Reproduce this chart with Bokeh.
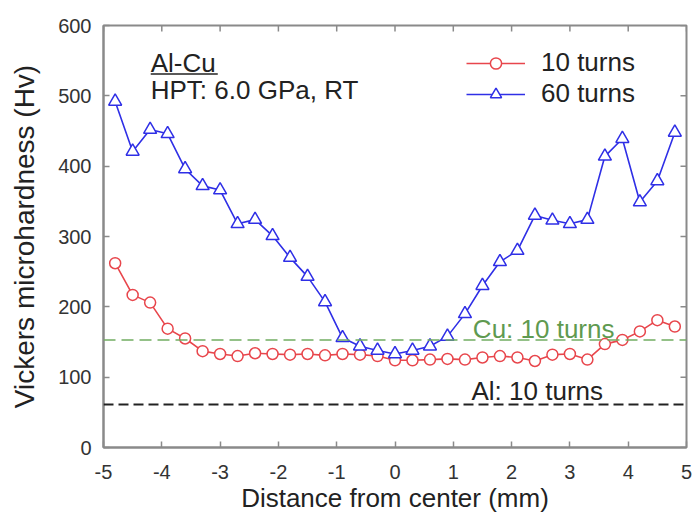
import math
from bokeh.plotting import figure
from bokeh.models import (FixedTicker, Span, Label, Legend, LegendItem, Range1d)
from bokeh.embed import file_html
from bokeh.resources import INLINE

# ---- data ----
distance = [-4.8, -4.5, -4.2, -3.9, -3.6, -3.3, -3.0, -2.7, -2.4, -2.1, -1.8, -1.5, -1.2,
            -0.9, -0.6, -0.3, 0.0, 0.3, 0.6, 0.9, 1.2, 1.5, 1.8, 2.1, 2.4, 2.7, 3.0,
            3.3, 3.6, 3.9, 4.2, 4.5, 4.8]
hv_10_turns = [262, 217, 206, 169, 155, 137, 133, 130, 134, 133, 132, 133, 131,
               133, 132, 130, 124, 124, 125, 126, 125, 128, 130, 128, 123, 132, 133,
               125, 147, 153, 165, 181, 172]
hv_60_turns = [492, 421, 452, 446, 396, 372, 366, 318, 324, 301, 270, 243, 207,
               156, 144, 138, 133, 138, 144, 158, 190, 230, 264, 280, 330, 323, 318,
               324, 414, 439, 349, 379, 448]
cu_10_turns_level = 153
al_10_turns_level = 61
x_ticks = [-5, -4, -3, -2, -1, 0, 1, 2, 3, 4, 5]
y_ticks = [0, 100, 200, 300, 400, 500, 600]
x_tick_labels = ["-5", "-4", "-3", "-2", "-1", "0", "1", "2", "3", "4", "5"]
y_tick_labels = ["0", "100", "200", "300", "400", "500", "600"]
series_labels = ["10 turns", "60 turns"]

FONT = "Liberation Sans"
AXIS_GRAY = "#8a8a8a"
RED = "#e8464c"
BLUE = "#2f2fe6"

p = figure(width=696, height=519, output_backend="svg", toolbar_location=None,
           x_range=Range1d(x_ticks[0], x_ticks[-1]), y_range=Range1d(y_ticks[0], y_ticks[-1]),
           min_border_left=103, min_border_right=10, min_border_top=25, min_border_bottom=72)
p.grid.visible = False
p.outline_line_color = AXIS_GRAY
p.outline_line_width = 2
p.background_fill_color = "white"
p.border_fill_color = "white"

def style_axis(ax):
    ax.axis_line_color = AXIS_GRAY
    ax.axis_line_width = 2
    ax.major_tick_line_color = AXIS_GRAY
    ax.major_tick_line_width = 1.5
    ax.major_tick_in = 6
    ax.major_tick_out = 0
    ax.minor_tick_line_color = None
    ax.major_label_text_font = FONT
    ax.major_label_text_color = "#333333"
    ax.major_label_text_font_size = "20px"
    ax.axis_label_text_font = FONT
    ax.axis_label_text_color = "#222222"
    ax.axis_label_text_font_style = "normal"

xa = p.xaxis[0]
xa.ticker = FixedTicker(ticks=x_ticks)
xa.major_label_overrides = {t: s for t, s in zip(x_ticks, x_tick_labels)}
xa.axis_label = "Distance from center (mm)"
style_axis(xa)
xa.major_label_standoff = 17
xa.axis_label_standoff = 1
xa.axis_label_text_font_size = "26px"

ya = p.yaxis[0]
ya.ticker = FixedTicker(ticks=y_ticks)
ya.major_label_overrides = {t: s for t, s in zip(y_ticks, y_tick_labels)}
ya.axis_label = "Vickers microhardness (Hv)"
style_axis(ya)
ya.major_label_standoff = 12
ya.axis_label_standoff = 15
ya.axis_label_text_font_size = "28px"

# inward ticks on the top and right frame edges
p.ray(x=x_ticks, y=[y_ticks[-1]] * len(x_ticks), length=6, length_units="screen",
      angle=-math.pi / 2, line_color=AXIS_GRAY, line_width=1.5)
p.ray(x=[x_ticks[-1]] * len(y_ticks), y=y_ticks, length=6, length_units="screen",
      angle=math.pi, line_color=AXIS_GRAY, line_width=1.5)

# reference levels
p.add_layout(Span(location=cu_10_turns_level, dimension="width", line_color="#72ad62",
                  line_width=1.5, line_dash="12 6"))
p.add_layout(Span(location=al_10_turns_level, dimension="width", line_color="#222222",
                  line_width=2, line_dash="10 5"))

# series
l1 = p.line(distance, hv_10_turns, line_color=RED, line_width=1.6)
s1 = p.scatter(distance, hv_10_turns, marker="circle", size=11, line_color=RED,
               fill_color="white", line_width=1.5)
l2 = p.line(distance, hv_60_turns, line_color=BLUE, line_width=1.6)
s2 = p.scatter(distance, hv_60_turns, marker="triangle", size=13, line_color=BLUE,
               fill_color="white", line_width=1.5)

legend = Legend(items=[LegendItem(label=series_labels[0], renderers=[l1, s1]),
                       LegendItem(label=series_labels[1], renderers=[l2, s2])],
                location=(363, 338), orientation="vertical",
                glyph_width=59, glyph_height=28, label_height=28, label_standoff=16,
                spacing=0, padding=0, margin=0, border_line_color=None,
                background_fill_alpha=0, label_text_font=FONT, label_text_font_size="26px",
                label_text_color="#222222")
p.add_layout(legend)

# annotations
p.add_layout(Label(x=-4.19, y=546, text="Al-Cu", text_font=FONT, text_font_size="26px",
                   text_color="#222222", text_baseline="middle", text_align="left"))
p.segment(x0=[-4.19], y0=[531], x1=[-3.04], y1=[531], line_color="#222222", line_width=1.5)
p.add_layout(Label(x=-4.19, y=508, text="HPT: 6.0 GPa, RT", text_font=FONT,
                   text_font_size="26px", text_color="#222222", text_baseline="middle",
                   text_align="left"))
p.add_layout(Label(x=2.55, y=169, text="Cu: 10 turns", text_font=FONT, text_font_size="26px",
                   text_color="#5f9a50", text_baseline="middle", text_align="center"))
p.add_layout(Label(x=2.44, y=80, text="Al: 10 turns", text_font=FONT, text_font_size="26px",
                   text_color="#222222", text_baseline="middle", text_align="center"))

open("out.html", "w").write(file_html(p, INLINE))
